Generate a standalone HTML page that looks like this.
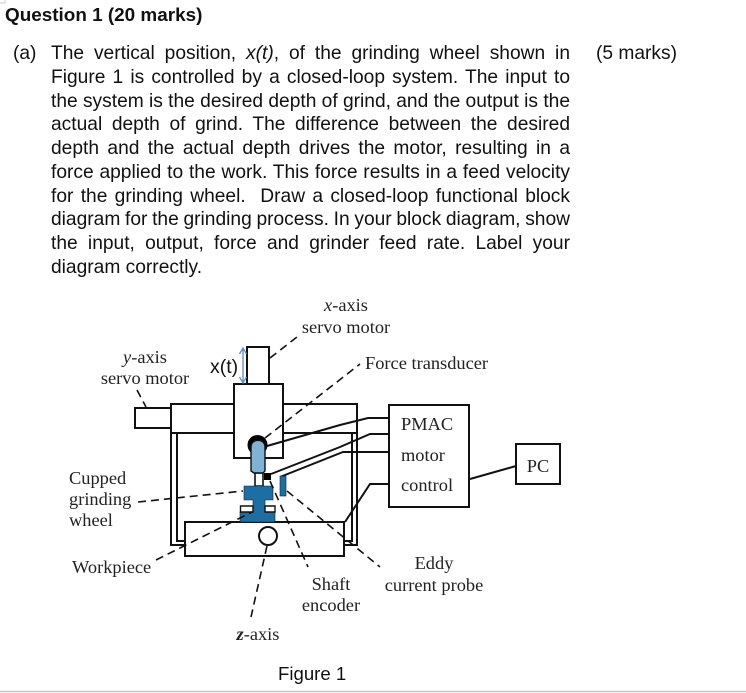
<!DOCTYPE html>
<html><head><meta charset="utf-8">
<style>
html,body{margin:0;padding:0;background:#fff;}
#p{position:relative;width:746px;height:693px;overflow:hidden;background:#fff;color:#111;font-family:"Liberation Sans",sans-serif;}
.a{position:absolute;white-space:nowrap;line-height:24px;font-size:19.2px;}
.j{position:absolute;left:51px;width:519px;line-height:24px;font-size:19.2px;word-spacing:-1.5px;text-align:justify;text-align-last:justify;white-space:normal;}
svg{position:absolute;left:0;top:0;}
svg text{font-family:"Liberation Serif",serif;font-size:18.4px;fill:#222;}
</style></head><body><div id="p">
<div class="a" style="left:5px;top:4px;font-weight:bold;font-size:18.9px;">Question 1 (20 marks)</div>
<div class="a" style="left:13px;top:42px;">(a)</div>
<div class="a" style="left:596px;top:42px;">(5 marks)</div>
<div class="j" style="top:42px;">The vertical position, <i>x(t)</i>, of the grinding wheel shown in</div>
<div class="j" style="top:66px;">Figure 1 is controlled by a closed-loop system. The input to</div>
<div class="j" style="top:90px;">the system is the desired depth of grind, and the output is the</div>
<div class="j" style="top:113px;">actual depth of grind. The difference between the desired</div>
<div class="j" style="top:137px;">depth and the actual depth drives the motor, resulting in a</div>
<div class="j" style="top:161px;">force applied to the work. This force results in a feed velocity</div>
<div class="j" style="top:185px;">for the grinding wheel.&nbsp; Draw a closed-loop functional block</div>
<div class="j" style="top:208px;">diagram for the grinding process. In your block diagram, show</div>
<div class="j" style="top:232px;">the input, output, force and grinder feed rate. Label your</div>
<div class="a" style="left:51px;top:256px;">diagram correctly.</div>
<div class="a" style="left:278px;top:662px;font-size:18.6px;">Figure 1</div>
<svg width="746" height="693" viewBox="0 0 746 693" style="filter:blur(0.3px)">
<g fill="none" stroke="#111" stroke-width="2">
<path d="M171 433V545H186M177 433V541H186M344 541H352V433M344 545H357V404"/>
<rect x="135" y="408" width="36" height="20" fill="#fff"/>
<rect x="171" y="404" width="186" height="29" fill="#fff"/>
<rect x="247" y="347" width="22" height="37" fill="#fff"/>
<rect x="234" y="384" width="49" height="74" fill="#fff"/>
<rect x="185" y="522" width="159" height="34" fill="#fff"/>
<circle cx="268" cy="536" r="9" fill="#fff"/>
<rect x="389" y="405" width="80" height="102" fill="#fff"/>
<rect x="516" y="444" width="44" height="40" fill="#fff"/>
<path d="M267 446L340 425L368 418H389M271 474L340 447L370 434H389M280 477L343 452H389M345 522L370 484H389M470 479L516 466"/>
</g>
<circle cx="257.500" cy="445" r="10" fill="#000"/>
<path d="M255 473V486H263V473Z" fill="#fff" stroke="#111" stroke-width="1.600"/>
<path d="M251 471V447C251 438 265 438 265 447V471L263 473H254Z" fill="#7fb2d5" stroke="#111" stroke-width="1.400"/>
<rect x="264" y="473" width="7" height="7" fill="#000"/>
<rect x="280" y="476" width="6" height="20" fill="#1c6ea4" stroke="#123" stroke-width=".6"/>
<path d="M244 486H273V500H265V509H275V522H240V512H253V500H244Z" fill="#1c6ea4" stroke="#123" stroke-width=".6"/>
<path d="M240.500 506H253V512H240.500ZM265 506H275V512H265Z" fill="#fff" stroke="#111" stroke-width="1.400"/>
<g fill="none" stroke="#111" stroke-width="1.600" stroke-dasharray="8 5">
<path d="M270 358L297 337"/>
<path d="M137 390L146 407"/>
<path d="M265 438L360 364"/>
<path d="M138 502L243 491"/>
<path d="M156 560L252 512"/>
<path d="M267 546L251 617"/>
<path d="M270 481L308 567"/>
<path d="M287 491L380 567"/>
</g>
<g fill="none" stroke="#5b8fcc" stroke-width="1.300">
<path d="M243 348V383M239.500 354L243 348L246.500 354M239.500 377L243 383L246.500 377"/>
</g>
<text x="346" y="311" text-anchor="middle"><tspan font-style="italic">x</tspan>-axis</text>
<text x="346" y="333" text-anchor="middle">servo motor</text>
<text x="145" y="363" text-anchor="middle"><tspan font-style="italic">y</tspan>-axis</text>
<text x="145" y="384" text-anchor="middle">servo motor</text>
<text x="365" y="369">Force transducer</text>
<text x="401" y="430">PMAC</text>
<text x="401" y="461">motor</text>
<text x="401" y="491">control</text>
<text x="538" y="472" text-anchor="middle">PC</text>
<text x="69" y="484">Cupped</text>
<text x="69" y="505">grinding</text>
<text x="69" y="526">wheel</text>
<text x="72" y="573">Workpiece</text>
<text x="331" y="590" text-anchor="middle">Shaft</text>
<text x="331" y="611" text-anchor="middle">encoder</text>
<text x="434" y="569" text-anchor="middle">Eddy</text>
<text x="434" y="591" text-anchor="middle">current probe</text>
<text x="258" y="640" text-anchor="middle"><tspan font-weight="bold" font-style="italic">z</tspan>-axis</text>
<text x="210" y="373" style="font-family:'Liberation Sans',sans-serif;font-size:19.5px;fill:#111">x(t)</text>
<path d="M0 691.500H746" stroke="#c4c4c4" stroke-width="1.500"/>
<path d="M5 0V3H0" fill="none" stroke="#ccc" stroke-width="1"/>
</svg>
</div></body></html>
